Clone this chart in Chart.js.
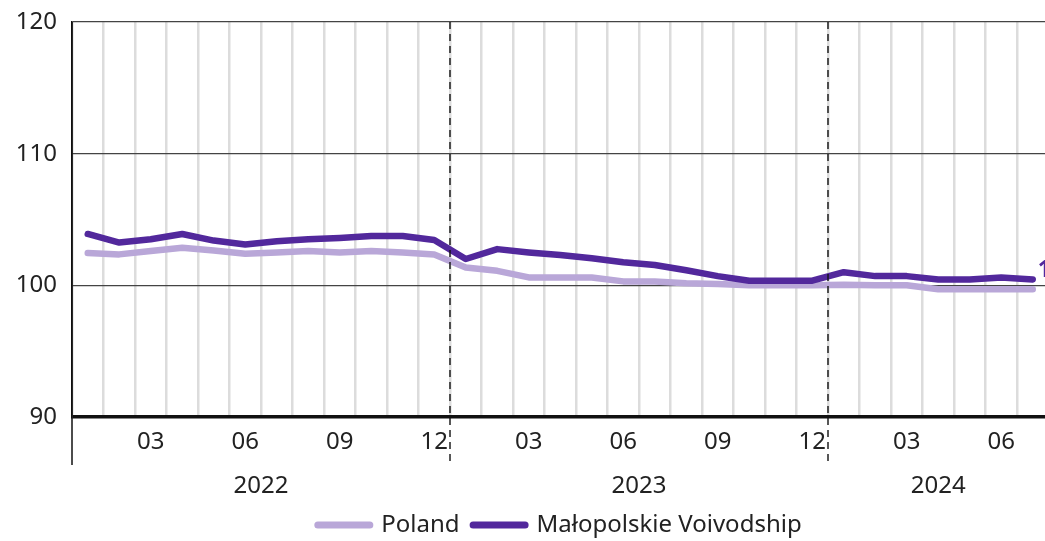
<!DOCTYPE html>
<html lang="en">
<head>
    <meta charset="UTF-8">
    <title>Poland vs Małopolskie Voivodship</title>
    <script src="https://cdn.jsdelivr.net/npm/chart.js"></script>
    <style>
        html, body {
            margin: 0;
            padding: 0;
            background: #ffffff;
            overflow: hidden;
        }
        .wrap {
            position: absolute;
            left: 0;
            top: 0;
            width: 1100px;
            height: 541px;
        }
    </style>
</head>
<body>
    <div class="wrap"><canvas id="chart"></canvas></div>

    <script>
        // Meses (ene 2022 - jul 2024)
        const months = [
            '2022-01', '2022-02', '2022-03', '2022-04', '2022-05', '2022-06',
            '2022-07', '2022-08', '2022-09', '2022-10', '2022-11', '2022-12',
            '2023-01', '2023-02', '2023-03', '2023-04', '2023-05', '2023-06',
            '2023-07', '2023-08', '2023-09', '2023-10', '2023-11', '2023-12',
            '2024-01', '2024-02', '2024-03', '2024-04', '2024-05', '2024-06',
            '2024-07'
        ];
        const years = ['2022', '2023', '2024'];
        const monthTicks = ['03', '06', '09', '12'];
        const yTicks = [90, 100, 110, 120];

        const poland = [
            102.45, 102.35, 102.6, 102.85, 102.65, 102.4,
            102.5, 102.6, 102.5, 102.6, 102.5, 102.35,
            101.35, 101.1, 100.6, 100.6, 100.6, 100.3,
            100.3, 100.15, 100.1, 100.0, 100.0, 100.0,
            100.05, 100.0, 100.0, 99.7, 99.7, 99.7,
            99.7
        ];
        const malopolskie = [
            103.9, 103.25, 103.5, 103.9, 103.4, 103.1,
            103.35, 103.5, 103.6, 103.75, 103.75, 103.45,
            102.0, 102.75, 102.5, 102.3, 102.05, 101.75,
            101.55, 101.15, 100.7, 100.35, 100.35, 100.35,
            101.0, 100.7, 100.7, 100.45, 100.45, 100.6,
            100.45
        ];

        const darkPurple = '#52289c';
        const lightPurple = '#b9a7d8';
        const textColor = '#222222';
        const fontFamily = '"Noto Sans", "Open Sans", sans-serif';
        const fontSize = 24;

        // Plugin: líneas discontinuas, años, etiqueta final y leyenda
        const extras = {
            id: 'extras',
            afterDraw(chart) {
                const ctx = chart.ctx;
                const x = chart.scales.x;
                const y = chart.scales.y;
                const area = chart.chartArea;
                const lowY = 465;

                ctx.save();

                // eje izquierdo prolongado
                ctx.strokeStyle = '#111';
                ctx.lineWidth = 1.5;
                ctx.beginPath();
                ctx.moveTo(area.left, area.top);
                ctx.lineTo(area.left, lowY);
                ctx.stroke();

                // separadores de año
                ctx.setLineDash([7, 5]);
                ctx.lineWidth = 1.4;
                months.forEach((m, i) => {
                    if (i > 0 && m.endsWith('-01')) {
                        const px = (x.getPixelForValue(i - 1) + x.getPixelForValue(i)) / 2;
                        ctx.beginPath();
                        ctx.moveTo(px, area.top);
                        ctx.lineTo(px, lowY);
                        ctx.stroke();
                    }
                });
                ctx.setLineDash([]);

                // etiquetas de año
                ctx.fillStyle = textColor;
                ctx.font = fontSize + 'px ' + fontFamily;
                ctx.textAlign = 'center';
                ctx.textBaseline = 'middle';
                years.forEach(yr => {
                    const idx = months.map((m, i) => m.startsWith(yr) ? i : -1).filter(i => i >= 0);
                    const cx = (x.getPixelForValue(idx[0]) + x.getPixelForValue(idx[idx.length - 1])) / 2;
                    ctx.fillText(yr, cx, 486);
                });

                // valor final
                const last = malopolskie.length - 1;
                ctx.fillStyle = darkPurple;
                ctx.font = 'bold 23px ' + fontFamily;
                ctx.textAlign = 'left';
                ctx.fillText(malopolskie[last].toFixed(1), x.getPixelForValue(last) + 5, y.getPixelForValue(malopolskie[last]) - 9);

                // leyenda
                const items = [
                    { text: 'Poland', color: lightPurple },
                    { text: 'Małopolskie Voivodship', color: darkPurple }
                ];
                ctx.font = fontSize + 'px ' + fontFamily;
                const sw = 59, gapText = 8, gapItem = 10;
                let total = 0;
                items.forEach((it, i) => {
                    it.w = ctx.measureText(it.text).width;
                    total += sw + gapText + it.w + (i ? gapItem : 0);
                });
                let lx = 558 - total / 2;
                const ly = 525;
                ctx.lineCap = 'round';
                ctx.lineWidth = 7;
                items.forEach((it, i) => {
                    if (i) lx += gapItem;
                    ctx.strokeStyle = it.color;
                    ctx.beginPath();
                    ctx.moveTo(lx + 3.5, ly);
                    ctx.lineTo(lx + sw - 3.5, ly);
                    ctx.stroke();
                    lx += sw + gapText;
                    ctx.fillStyle = textColor;
                    ctx.textAlign = 'left';
                    ctx.fillText(it.text, lx, ly);
                    lx += it.w;
                });

                ctx.restore();
            }
        };

        new Chart(document.getElementById('chart'), {
            type: 'line',
            data: {
                labels: months,
                datasets: [
                    {
                        label: 'Małopolskie Voivodship',
                        data: malopolskie,
                        borderColor: darkPurple,
                        borderWidth: 6.5,
                        order: 0
                    },
                    {
                        label: 'Poland',
                        data: poland,
                        borderColor: lightPurple,
                        borderWidth: 6.5,
                        order: 1
                    }
                ]
            },
            options: {
                responsive: true,
                maintainAspectRatio: false,
                animation: false,
                layout: { padding: { left: 0, right: 51.5, top: 22, bottom: 0 } },
                elements: {
                    point: { radius: 0 },
                    line: { tension: 0, borderCapStyle: 'round', borderJoinStyle: 'round' }
                },
                plugins: {
                    legend: { display: false },
                    tooltip: { enabled: false }
                },
                scales: {
                    x: {
                        offset: true,
                        grid: {
                            offset: true,
                            color: '#dcdcdc',
                            lineWidth: 2.5,
                            drawTicks: false
                        },
                        border: { display: false },
                        ticks: {
                            autoSkip: false,
                            maxRotation: 0,
                            padding: 11,
                            color: textColor,
                            font: { size: fontSize, family: fontFamily },
                            callback: function (v, i) {
                                const mm = months[i].slice(5);
                                return monthTicks.includes(mm) ? mm : '';
                            }
                        },
                        afterFit: s => { s.height = 124; s.paddingLeft = 0; s.paddingRight = 0; }
                    },
                    y: {
                        min: 90,
                        max: 120,
                        afterBuildTicks: s => { s.ticks = yTicks.map(v => ({ value: v })); },
                        grid: {
                            drawTicks: false,
                            color: c => c.tick.value === 90 ? '#111' : '#444',
                            lineWidth: c => c.tick.value === 90 ? 3.5 : 1.2
                        },
                        border: { display: true, color: '#111', width: 1.5 },
                        ticks: {
                            padding: 15,
                            color: textColor,
                            font: { size: fontSize, family: fontFamily }
                        },
                        afterFit: s => { s.width = 72; s.paddingTop = 0; s.paddingBottom = 0; }
                    }
                }
            },
            plugins: [extras]
        });
    </script>
</body>
</html>
